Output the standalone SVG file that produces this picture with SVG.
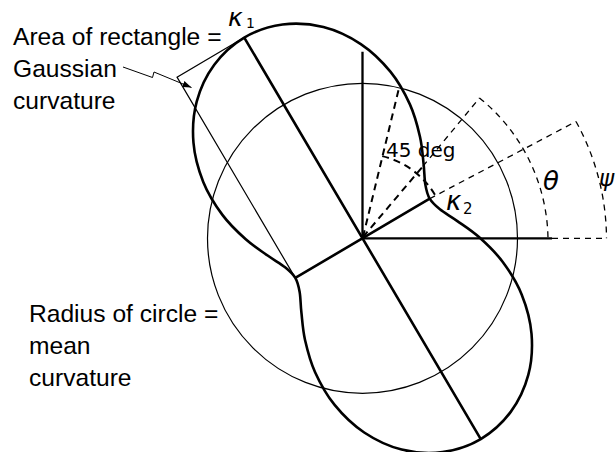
<svg xmlns="http://www.w3.org/2000/svg" width="616" height="452" viewBox="0 0 616 452">
<style>
  .lbl { font-family: "Liberation Sans", Arial, sans-serif; font-size: 24.6px; fill: #000; }
  .sym { font-family: "DejaVu Sans", sans-serif; font-style: italic; fill: #000; }
  .sub { font-family: "DejaVu Sans", sans-serif; font-style: normal; fill: #000; }
  .thick { fill: none; stroke: #000; stroke-width: 2.6; stroke-linejoin: round; }
  .axis { fill: none; stroke: #000; stroke-width: 2.3; }
  .thin { fill: none; stroke: #000; stroke-width: 1.2; }
  .dashB { fill: none; stroke: #000; stroke-width: 2; stroke-dasharray: 7 5; }
  .dashT { fill: none; stroke: #000; stroke-width: 1.3; stroke-dasharray: 6 5; }
</style>
<defs>
  <marker id="arr" markerWidth="10" markerHeight="8" refX="9" refY="4" orient="auto" markerUnits="userSpaceOnUse">
    <path d="M0,0.8 L9,4 L0,7.2 Z" fill="#000"/>
  </marker>
</defs>
<rect width="616" height="452" fill="#fff"/>

<g id="circle">
  <circle class="thin" cx="362.5" cy="238.3" r="155"/>
</g>

<g id="curvature-plot" transform="translate(362.5 238.3) rotate(-30.5)">
  <path class="thin" d="M0 -233 L-78 -233 L-78 0"/>
  <path class="thick" d="M0 -233
    C13.2 -233 27.35 -229.98 39.6 -224.8
    C51.85 -219.62 63.92 -211.33 73.5 -201.9
    C83.08 -192.47 91.25 -180.28 97.1 -168.2
    C102.95 -156.12 106.65 -142.22 108.6 -129.4
    C110.55 -116.58 110.05 -103.13 108.8 -91.3
    C107.55 -79.47 104.18 -68.13 101.1 -58.4
    C98.02 -48.67 93.58 -40.24 90.3 -32.9
    C87.02 -25.56 83.45 -19.83 81.4 -14.35
    C79.35 -8.87 78 -4.78 78 0
    C78 4.78 79.35 8.87 81.4 14.35
    C83.45 19.83 87.02 25.56 90.3 32.9
    C93.58 40.24 98.02 48.67 101.1 58.4
    C104.18 68.13 107.55 79.47 108.8 91.3
    C110.05 103.13 110.55 116.58 108.6 129.4
    C106.65 142.22 102.95 156.12 97.1 168.2
    C91.25 180.28 83.08 192.47 73.5 201.9
    C63.92 211.33 51.85 219.62 39.6 224.8
    C27.35 229.98 13.2 233 0 233
    C-13.2 233 -27.35 229.98 -39.6 224.8
    C-51.85 219.62 -63.92 211.33 -73.5 201.9
    C-83.08 192.47 -91.25 180.28 -97.1 168.2
    C-102.95 156.12 -106.65 142.22 -108.6 129.4
    C-110.55 116.58 -110.05 103.13 -108.8 91.3
    C-107.55 79.47 -104.18 68.13 -101.1 58.4
    C-98.02 48.67 -93.58 40.24 -90.3 32.9
    C-87.02 25.56 -83.45 19.83 -81.4 14.35
    C-79.35 8.87 -78 4.78 -78 0
    C-78 -4.78 -79.35 -8.87 -81.4 -14.35
    C-83.45 -19.83 -87.02 -25.56 -90.3 -32.9
    C-93.58 -40.24 -98.02 -48.67 -101.1 -58.4
    C-104.18 -68.13 -107.55 -79.47 -108.8 -91.3
    C-110.05 -103.13 -110.55 -116.58 -108.6 -129.4
    C-106.65 -142.22 -102.95 -156.12 -97.1 -168.2
    C-91.25 -180.28 -83.08 -192.47 -73.5 -201.9
    C-63.92 -211.33 -51.85 -219.62 -39.6 -224.8
    C-27.35 -229.98 -13.2 -233 0 -233 Z"/>
  <path class="thick" d="M0 -233 L0 233 M-78 0 L78 0"/>
</g>

<g id="reference-axes">
  <path class="axis" d="M362.5 238.3 V51.7 M362.5 238.3 H552"/>
</g>

<g id="angles">
  <path class="dashB" d="M363 237 L399 88"/>
  <path class="dashB" d="M382.2 156.1 A84.5 84.5 0 0 1 435.3 195.4"/>
  <path class="dashB" d="M363 237 L422.9 166.3"/>
  <path class="dashT" d="M422.9 166.3 L479.5 98"/>
  <path class="dashT" d="M479.5 98 A184 184 0 0 1 548 238.3"/>
  <path class="dashT" d="M429.7 198.7 L576 121.5"/>
  <path class="dashT" d="M576 121.5 A244 244 0 0 1 606.5 238.3"/>
  <path class="dashT" d="M552 238.3 H606.5"/>
</g>

<g id="connectors">
  <path fill="none" stroke="#000" stroke-width="1" d="M123 67 L152.5 77.5 L154 72 L191.5 87.5" marker-end="url(#arr)"/>
</g>

<g id="labels">
  <text class="lbl" x="13" y="44.5">Area of rectangle =</text>
  <text class="lbl" x="13" y="76.5">Gaussian</text>
  <text class="lbl" x="13" y="108.5">curvature</text>
  <text class="lbl" x="29" y="321.5">Radius of circle =</text>
  <text class="lbl" x="29" y="353.5">mean</text>
  <text class="lbl" x="29" y="385.5">curvature</text>
  <text class="sub" x="386" y="156.5" font-size="20">45 deg</text>
  <text class="sym" x="228" y="25.5" font-size="25">κ<tspan class="sub" x="246" y="27.5" font-size="14">1</tspan></text>
  <text class="sym" x="446" y="209.5" font-size="26">κ<tspan class="sub" x="463" y="213.5" font-size="15">2</tspan></text>
  <text class="sym" x="543" y="190" font-size="26">θ</text>
  <text class="sym" x="599" y="186" font-size="23">ψ</text>
</g>
</svg>
